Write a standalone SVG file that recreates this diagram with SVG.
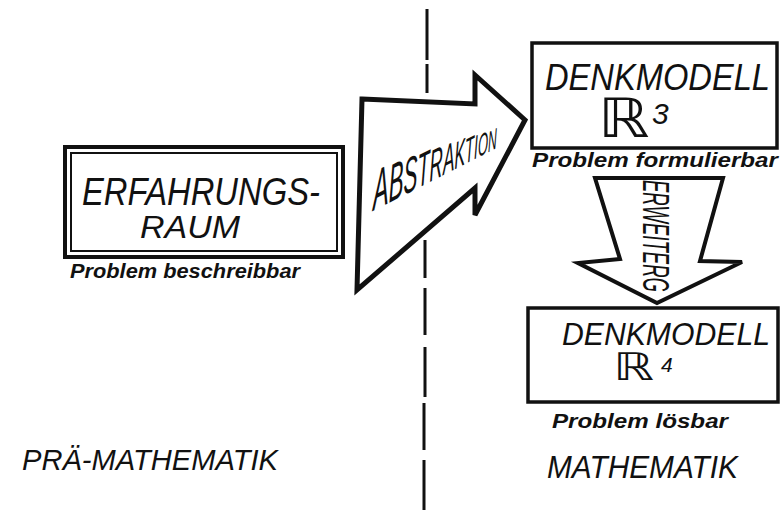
<svg xmlns="http://www.w3.org/2000/svg" width="781" height="510" viewBox="0 0 781 510">
<style>
.ink{fill:none;stroke:#111;stroke-linejoin:miter}
.big{font-family:"Liberation Sans",Arial,sans-serif;font-style:italic;fill:#111}
.sub{font-family:"Liberation Sans",Arial,sans-serif;font-style:italic;font-weight:bold;fill:#111}
.dbl{font-family:"DejaVu Sans","Liberation Sans",sans-serif;fill:#111}
</style>
<rect width="781" height="510" fill="#fff"/>
<g id="divider">
<path class="ink" stroke-width="3" d="M427 9V60M427 64V93M425 240V278M425 288V335M425 347V397M424 403V450M424 460V510"/>
</g>
<g id="connectors">
<g id="abstraktion-arrow">
<path class="ink" stroke-width="5" d="M362 99L475 104L475 75L525 120L475 215L475 188L357 290Z"/>
<g transform="translate(373,211) skewY(-27) scale(0.42,1)">
<text class="big" x="0" y="0"><tspan font-size="56">A</tspan><tspan font-size="53">B</tspan><tspan font-size="50">S</tspan><tspan font-size="47">T</tspan><tspan font-size="44">R</tspan><tspan font-size="41">A</tspan><tspan font-size="38">K</tspan><tspan font-size="35">T</tspan><tspan font-size="33">I</tspan><tspan font-size="31">O</tspan><tspan font-size="29">N</tspan></text>
</g>
</g>
<g id="erweiterung-arrow">
<path class="ink" stroke-width="4" d="M595 178L723 178L700 261L742 262L657 303L578 263L620 259Z"/>
<text class="big" font-size="36" transform="translate(643,180) rotate(90)" x="0" y="0" textLength="112" lengthAdjust="spacingAndGlyphs">ERWEITERG</text>
</g>
</g>
<g id="erfahrungsraum">
<rect class="ink" stroke-width="4" x="65" y="147" width="278" height="110"/>
<rect class="ink" stroke-width="2" x="71" y="153" width="266" height="98"/>
<text class="big" font-size="38" x="82" y="205" textLength="238" lengthAdjust="spacingAndGlyphs">ERFAHRUNGS-</text>
<text class="big" font-size="31" x="140" y="238" textLength="100" lengthAdjust="spacingAndGlyphs">RAUM</text>
<text class="sub" font-size="20" x="70" y="278" textLength="230" lengthAdjust="spacingAndGlyphs">Problem beschreibbar</text>
</g>
<g id="denkmodell-r3">
<rect class="ink" stroke-width="3.5" x="532" y="43" width="245" height="105"/>
<text class="big" font-size="37" x="545" y="90" textLength="225" lengthAdjust="spacingAndGlyphs">DENKMODELL</text>
<text class="dbl" font-size="54" transform="translate(598,137) scale(1.2,1)">ℝ</text>
<text class="big" font-size="30" x="652" y="124">3</text>
<text class="sub" font-size="21" x="532" y="167" textLength="246" lengthAdjust="spacingAndGlyphs">Problem formulierbar</text>
</g>
<g id="denkmodell-r4">
<rect class="ink" stroke-width="3.5" x="528" y="308" width="250" height="94"/>
<text class="big" font-size="32" x="562" y="345" textLength="208" lengthAdjust="spacingAndGlyphs">DENKMODELL</text>
<text class="dbl" font-size="38" transform="translate(613,380) scale(1.35,1)">ℝ</text>
<text class="big" font-size="21" x="661" y="372">4</text>
<text class="sub" font-size="21" x="552" y="428" textLength="176" lengthAdjust="spacingAndGlyphs">Problem lösbar</text>
</g>
<g id="labels">
<text class="big" font-size="30" x="22" y="470" textLength="256" lengthAdjust="spacingAndGlyphs">PRÄ-MATHEMATIK</text>
<text class="big" font-size="31" x="547" y="478" textLength="191" lengthAdjust="spacingAndGlyphs">MATHEMATIK</text>
</g>
</svg>
